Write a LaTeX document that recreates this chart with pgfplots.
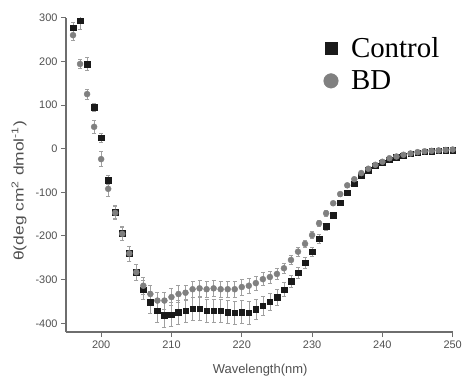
\documentclass[border=0pt]{standalone}
\usepackage{fontspec}
\setmainfont{Liberation Sans}
\newfontfamily\legfont{Liberation Serif}
\newfontfamily\ylabfont[FakeStretch=1.25]{Liberation Sans}
\usepackage{pgfplots}
\usepackage{pgfplotstable}
\pgfplotsset{compat=1.18}
\definecolor{ctrl}{HTML}{1A1A1A}
\definecolor{bdc}{HTML}{808080}
\definecolor{axc}{HTML}{6E6E6E}
\definecolor{txc}{HTML}{505050}
\definecolor{errc}{HTML}{A0A0A0}
\pgfplotstableread{
x yC eC yB eB
196 277 12 260 12
197 293 20 194 10
198 194 15 125 12
199 95 10 50 15
200 25 10 -24 17
201 -72 10 -92 17
202 -145 15 -147 15
203 -194 15 -195 15
204 -240 17 -240 17
205 -283 18 -283 18
206 -323 22 -314 20
207 -352 25 -333 20
208 -371 27 -348 20
209 -381 28 -348 20
210 -380 28 -340 19
211 -375 27 -333 19
212 -371 27 -330 18
213 -367 26 -322 18
214 -367 26 -320 18
215 -371 26 -322 18
216 -371 26 -320 18
217 -371 26 -322 18
218 -374 26 -322 18
219 -376 26 -322 18
220 -374 26 -317 18
221 -376 26 -314 17
222 -368 24 -308 16
223 -360 22 -299 15
224 -351 20 -294 14
225 -340 18 -287 13
226 -323 16 -274 12
227 -304 14 -255 11
228 -284 13 -236 10
229 -261 12 -218 9
230 -236 11 -198 8
231 -206 10 -171 7
232 -178 8 -148 6
233 -152 7 -125 5
234 -124 6 -104 5
235 -101 5 -84 4
236 -80 5 -70 4
237 -62 4 -56 3
238 -49 4 -46 3
239 -39 3 -37 3
240 -32 3 -30 2
241 -25 3 -22 2
242 -20 2 -18 2
243 -16 2 -14 2
244 -12 2 -11 2
245 -9 2 -8 2
246 -7 2 -6 2
247 -6 2 -5 2
248 -5 2 -4 2
249 -4 2 -3 2
250 -3 2 -2 2
}\data
\begin{document}
\begin{tikzpicture}
\path[use as bounding box] (-66bp,-49bp) rectangle (400bp,332bp);
\begin{axis}[
  at={(0,0)}, anchor=south west,
  scale only axis, width=386.7bp, height=314.3bp,
  xmin=195, xmax=250, ymin=-420, ymax=300,
  axis x line*=bottom, axis y line*=left,
  axis line style={-, color=axc, line width=1.3bp},
  xtick={200,210,...,250}, ytick={-400,-300,...,300},
  tick align=outside, major tick length=5bp,
  every tick/.style={color=axc, line width=1bp},
  tick label style={font=\fontsize{11}{12}\selectfont, color=txc},
  /pgf/number format/assume math mode=true,
  xlabel={Wavelength(nm)},
  xlabel style={at={(axis description cs:0.502,-0.121)}, anchor=center, font=\fontsize{13}{14}\selectfont, color=txc},
  ylabel={\ylabfont θ(deg cm\textsuperscript{2} dmol\textsuperscript{-1})},
  ylabel style={at={(axis description cs:-0.1215,0.449)}, anchor=center, font=\fontsize{14}{15}\selectfont, color=txc},
  legend style={draw=none, fill=none, at={(axis description cs:0.6654,0.942)}, anchor=north west,
    font=\legfont\fontsize{29}{31}\selectfont, inner sep=0pt, row sep=10bp,
    nodes={inner sep=1bp}, /tikz/every odd column/.style={column sep=11.5bp}},
  legend cell align=left,
]
\addplot[forget plot, only marks, mark=square*, mark size=2.8bp, color=ctrl,
  error bars/.cd, y dir=both, y explicit,
  error bar style={color=errc, line width=0.6bp},
  error mark options={rotate=90, mark size=2bp, color=errc, line width=0.6bp}]
  table[x=x, y=yC, y error=eC] {\data};
\addplot[forget plot, only marks, mark=*, mark size=3bp, color=bdc,
  error bars/.cd, y dir=both, y explicit,
  error bar style={color=errc, line width=0.6bp},
  error mark options={rotate=90, mark size=2bp, color=errc, line width=0.6bp}]
  table[x=x, y=yB, y error=eB] {\data};
\addlegendimage{legend image code/.code={\path (-1.3bp,0) (13.3bp,0); \fill[ctrl] (0bp,-6bp) rectangle (12bp,6bp);}}
\addlegendentry{Control}
\addlegendimage{legend image code/.code={\path (-1.3bp,0) (13.3bp,0); \fill[bdc] (6bp,0) circle[radius=7.3bp];}}
\addlegendentry{BD}
\end{axis}
\end{tikzpicture}
\end{document}
